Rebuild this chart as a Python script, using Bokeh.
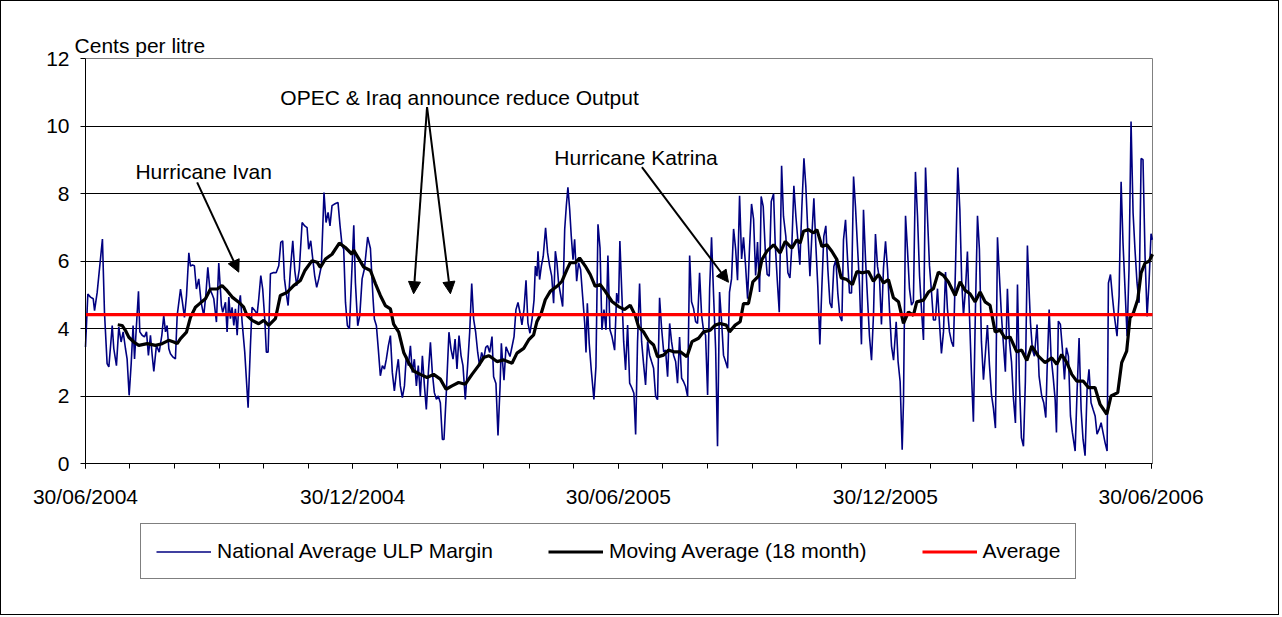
import calendar
from datetime import date
from bokeh.plotting import figure
from bokeh.models import (Range1d, FixedTicker, Legend, LegendItem, Label, Arrow,
                          NormalHead, Grid)
from bokeh.embed import file_html
from bokeh.resources import INLINE

# ---------------- data (days since 30/06/2004, cents per litre) ----------------
margin_days = [
    0, 1.6, 3.4, 5.3, 6.2, 8.0, 11.6, 13.0, 14.8, 16.0, 18.3, 19.4, 21.2, 22.8, 24.4, 25.8, 27.4, 28.5,
    29.9, 31.3, 32.6, 33.6, 34.9, 36.3, 37.2, 38.8, 40.4, 41.8, 43.1, 44.5, 45.7, 46.8, 48.6, 50.5, 52.3,
    53.6, 54.8, 55.9, 57.1, 58.2, 60.0, 61.6, 62.8, 65.1, 66.4, 67.8, 69.2, 70.8, 71.9, 73.3, 74.6, 76.0,
    77.6, 79.2, 81.0, 82.4, 83.8, 85.2, 86.7, 87.9, 89.7, 91.3,
    93.1, 94.0, 95.9, 97.0, 98.2, 99.3, 100.4, 101.6, 102.7, 103.9, 105.0, 106.1, 107.3, 109.1, 111.4,
    113.0, 114.1, 116.0, 117.6, 118.7, 120.1, 121.4, 122.8, 123.9, 125.1, 126.7, 129.0, 130.6, 132.4,
    133.8, 135.1, 136.3, 137.6, 138.8, 140.4, 142.0, 143.4, 144.7, 146.5, 148.4, 150.2, 151.8, 152.9,
    154.3, 155.7, 157.0, 158.4, 159.8, 161.6, 163.4, 164.8, 166.2, 167.5, 168.9, 170.3, 171.7, 173.0,
    174.4, 175.8, 176.9, 178.1, 179.4, 180.8,
    183.8, 184.9, 186.5, 187.9, 189.5, 191.1, 193.3, 195.2, 197.0, 197.9, 199.3, 200.6, 202.0, 203.4,
    204.8, 206.1, 207.5, 208.9, 210.2, 211.6, 213.0, 214.3, 215.7, 217.1, 218.5, 219.8, 221.2, 222.6,
    223.9, 225.3, 226.7, 228.0, 229.4, 230.8, 232.2, 233.5, 234.9, 236.3, 237.6, 239.0, 240.4, 241.7,
    243.1, 244.5, 245.6, 247.2, 249.0, 250.4, 251.8, 253.2, 254.5, 255.9, 257.3, 258.6, 260.2, 261.8,
    263.2, 264.6, 265.9, 267.3, 268.7, 270.0, 271.4, 272.8, 274.2, 275.5, 276.9,
    278.5, 279.6, 281.2, 282.6, 284.0, 284.9, 285.8, 286.7, 288.1, 289.4, 290.8, 292.2, 293.6, 294.9,
    296.3, 297.7, 299.0, 300.4, 301.8, 303.1, 304.5, 305.9, 307.3, 308.2, 309.3, 310.0, 311.1, 312.3,
    313.6, 315.2, 316.6, 318.0, 319.4, 320.7, 321.9, 323.0, 324.1, 325.5, 326.9, 328.3, 329.4, 330.5,
    331.7, 332.8, 334.0, 335.1, 336.5, 337.8, 339.2, 340.6, 342.0, 342.9, 343.8, 345.1, 346.5, 348.3,
    349.7, 351.1, 352.5, 353.8, 355.2, 356.6, 357.9, 359.3, 360.7, 362.5, 363.9, 365.2, 366.1,
    367.5, 368.7, 370.0, 371.4, 372.8, 374.4, 375.7, 376.9, 378.2, 379.6, 381.0, 382.4, 383.7, 385.1,
    386.5, 387.8, 389.2, 390.6, 391.9, 393.3, 394.7, 396.1, 397.4, 398.8, 400.2, 401.5, 402.9, 404.3,
    405.6, 407.0, 408.4, 409.7, 411.1, 412.5, 413.9, 415.2, 416.6, 418.0, 419.3, 420.7, 422.1, 423.4,
    424.8, 426.2, 427.6, 428.9, 430.3, 431.7, 433.0, 434.4, 435.8, 437.1, 438.5, 439.9, 441.2, 442.6,
    444.0, 445.4, 446.7, 448.1, 449.5, 450.8, 452.2, 453.6, 454.9, 456.3, 457.7, 459.1, 460.4, 461.8,
    462.9, 464.3, 465.7, 467.0, 468.4, 469.8, 471.4, 472.5, 473.9, 475.3, 476.9, 478.2, 479.8, 481.2,
    482.6, 483.9, 485.3, 486.7, 488.0, 489.4, 490.8, 492.2, 493.5, 494.9, 496.3, 497.6, 499.0, 500.4,
    501.7, 503.1, 504.5, 505.8, 507.2, 508.6, 510.0, 511.3, 512.7, 514.1, 515.4, 516.8, 518.2, 519.3,
    520.7, 522.1, 523.4, 524.8, 526.2, 527.5, 528.9, 530.3, 531.6, 533.0, 534.4, 535.8, 537.1, 538.5,
    539.9, 541.2, 542.6, 544.0, 545.3, 546.7, 548.1, 549.5, 550.8, 552.2, 553.6,
    555.4, 556.7, 558.1, 559.5, 560.4, 561.8, 563.1, 564.5, 565.9, 567.2, 568.6, 570.0, 571.4, 572.7,
    574.1, 575.5, 576.8, 578.2, 579.6, 580.9, 582.3, 583.7, 585.0, 586.4, 587.8, 589.2, 590.5, 591.9,
    593.3, 594.6, 596.0, 597.6, 599.0, 600.3, 601.5, 602.9, 604.2, 605.6, 607.0, 608.3, 609.7, 611.1,
    612.4, 613.8, 615.2, 616.6, 617.9, 619.3, 620.7, 622.0, 623.4, 624.8, 626.1, 627.5, 628.9, 630.2,
    631.6, 633.0, 634.4, 635.7, 637.1, 638.5, 639.8, 641.2, 642.6, 643.9, 645.3, 646.7,
    647.4, 648.7, 650.1, 651.9, 653.3, 655.1, 656.5, 657.9, 658.8, 660.2, 661.5, 662.9, 664.3, 665.2,
    666.5, 667.9, 669.3, 670.7, 672.0, 673.4, 674.8, 676.1, 678.0, 679.3, 680.7, 682.1, 683.4, 684.8,
    686.2, 687.5, 688.9, 690.3, 691.7, 693.0, 694.4, 695.8, 697.1, 698.5, 699.9, 700.8, 702.2, 703.5,
    704.9, 706.7, 708.1, 709.5, 710.8, 712.2, 713.6, 714.9, 716.3, 717.7, 719.0, 720.4, 721.8, 723.2,
    724.5, 725.9, 727.3, 728.6, 730.0, 730.9,
]
margin_values = [
    3.45, 5.02, 4.93, 4.88, 4.53, 5.07, 6.65, 4.48, 2.96, 2.86, 4.09, 3.40, 2.90, 4.04, 3.60, 3.90, 3.40, 3.10,
    2.02, 2.96, 4.09, 3.10, 4.09, 5.10, 3.90, 3.80, 3.75, 3.90, 3.20, 3.80, 3.20, 2.73, 3.50, 3.30, 3.80,
    4.38, 3.90, 4.09, 3.40, 3.25, 3.15, 3.10, 4.38, 5.17, 4.78, 4.33, 4.97, 6.24, 5.85, 5.88, 5.86, 5.17,
    5.47, 4.78, 4.38, 4.97, 5.81, 5.17, 5.02, 4.88, 4.19, 5.94,
    4.68, 4.48, 4.78, 3.90, 4.93, 4.29, 4.63, 4.09, 4.58, 3.80, 4.68, 4.98, 4.19, 3.30, 1.65,
    3.50, 4.63, 4.53, 4.43, 4.88, 5.57, 5.17, 4.29, 3.30, 3.30, 5.62, 5.66, 5.65, 5.86,
    6.55, 6.60, 5.47, 5.02, 4.68, 5.76, 6.60, 5.71, 5.27, 5.76, 7.14, 7.04, 6.99, 6.35,
    6.60, 6.06, 5.57, 5.22, 5.47, 5.86, 8.03, 7.14, 7.44, 7.04, 7.64, 7.68, 7.71, 7.73,
    7.04, 6.45, 6.35, 4.78, 4.09, 3.99,
    7.06, 5.37, 4.08, 4.38, 5.47, 5.77, 6.71, 6.37, 4.88, 4.28, 4.08, 3.39, 2.60, 2.90,
    2.80, 3.09, 3.49, 3.79, 2.70, 2.15, 2.70, 3.09, 2.30, 1.95, 2.30, 3.19, 2.90, 3.49,
    2.70, 3.09, 2.30, 2.90, 2.00, 3.19, 2.30, 1.60, 2.70, 3.59, 2.70, 2.10, 1.90, 2.00,
    1.80, 0.71, 0.71, 2.10, 3.89, 3.39, 3.09, 3.69, 2.80, 3.79, 3.19, 2.90, 1.90, 2.90,
    3.89, 5.33, 4.28, 3.89, 3.29, 2.90, 3.29, 3.09, 3.44, 3.49, 3.29,
    3.76, 2.57, 2.37, 0.83, 2.27, 3.56, 2.97, 2.47, 3.46, 3.32, 3.17, 3.46, 3.76, 4.56,
    4.77, 4.46, 4.11, 4.56, 5.43, 4.16, 3.86, 4.26, 4.85, 5.85, 5.55, 6.29, 5.45, 5.85,
    6.14, 6.98, 6.24, 5.85, 5.55, 4.75, 6.29, 5.95, 5.35, 5.00, 4.65, 6.94, 7.63, 8.18,
    7.53, 6.74, 6.04, 6.64, 5.40, 5.95, 5.75, 4.95, 4.16, 3.29, 4.75, 3.56, 2.77, 1.90,
    2.87, 7.09, 6.39, 3.96, 4.56, 3.96, 6.16, 3.96, 3.76, 3.36, 5.05, 4.75, 6.59,
    4.98, 3.61, 2.77, 4.10, 2.38, 2.23, 2.08, 0.86, 3.61, 5.33, 3.61, 2.92, 2.33, 3.61,
    3.21, 3.02, 2.82, 1.99, 1.89, 4.91, 4.00, 3.31, 3.36, 2.57, 4.15, 3.61, 3.21, 3.02,
    2.38, 3.75, 2.53, 2.43, 2.28, 1.99, 6.16, 4.79, 4.59, 4.20, 4.15, 5.65, 4.39, 3.95,
    3.80, 2.03, 5.18, 6.70, 4.98, 3.41, 0.51, 5.08, 4.20, 3.21, 3.02, 2.82, 5.08, 5.47,
    6.95, 6.36, 5.43, 7.93, 6.06, 6.70, 5.87, 4.88, 6.36, 7.69, 7.24, 5.57, 6.56, 5.08,
    7.91, 7.62, 6.33, 5.60, 5.55, 7.76, 7.99, 6.53, 5.45, 4.48, 8.82, 7.32, 6.73, 5.65,
    5.50, 6.43, 8.23, 7.32, 6.63, 5.89, 7.62, 9.04, 8.21, 6.83, 5.55, 6.73, 7.86, 6.43,
    5.25, 3.53, 5.25, 6.73, 7.04, 5.74, 4.76, 4.61, 5.84, 6.04, 5.05, 4.36, 4.22, 6.63,
    7.22, 6.04, 5.05, 5.05, 8.50, 7.62, 6.43, 5.25, 3.53, 7.52, 6.04, 4.86, 3.77, 3.06,
    4.46, 6.80, 5.84, 5.45, 4.12, 5.79, 6.58, 5.74, 4.56, 3.48, 3.06,
    4.20, 3.02, 2.43, 0.41, 1.84, 7.34, 6.36, 5.18, 4.69, 4.79, 8.64, 7.34, 5.57, 4.59,
    3.66, 8.77, 7.34, 5.87, 5.08, 4.25, 4.25, 5.18, 4.20, 3.26, 3.90, 5.67, 4.59, 3.90,
    3.61, 3.46, 5.77, 8.77, 7.54, 5.38, 4.39, 5.18, 6.28, 4.39, 2.62, 1.24, 4.59, 7.34,
    6.36, 3.61, 2.48, 3.31, 4.10, 2.92, 2.03, 1.64, 1.05, 6.70, 5.57, 4.39, 3.51, 2.72,
    5.18, 3.61, 3.02, 1.94, 1.20, 5.30, 2.43, 0.76, 0.51, 2.43, 6.46, 4.88,
    4.17, 3.38, 3.18, 4.12, 2.59, 2.00, 1.80, 1.36, 2.79, 4.56, 3.18, 2.59, 1.90, 0.92,
    4.22, 4.12, 3.38, 2.49, 3.43, 3.18, 1.41, 0.92, 0.37, 2.10, 3.72, 1.60, 0.72, 0.23,
    2.20, 2.79, 1.80, 1.60, 1.41, 0.87, 1.01, 1.21, 0.92, 0.62, 0.37, 5.35, 5.60, 4.96,
    4.36, 3.77, 4.96, 8.35, 6.53, 5.15, 3.77, 5.74, 10.13, 7.42, 6.34, 5.35, 4.76, 9.04,
    9.00, 6.14, 4.36, 5.35, 6.81, 6.63,
]

ma_days = [
    22.1, 25.1, 27.4, 29.7, 33.1, 36.5, 42.3, 47.9, 52.5, 57.0, 60.5, 62.8, 65.1, 69.2, 71.9, 75.3, 78.8,
    82.2, 85.6, 90.2, 93.6, 97.0, 100.5, 105.0, 108.4, 110.7, 114.2, 118.7, 122.1, 125.5, 130.1, 133.5,
    138.1, 142.6, 147.2, 150.2, 155.2, 158.7, 160.9, 164.4, 168.9, 173.9, 178.0, 182.6, 183.7, 187.2,
    190.6, 195.2, 198.6, 202.0, 205.4, 208.9, 211.1, 214.6, 218.0, 221.4, 224.8, 229.4, 234.0, 238.5,
    243.1, 247.0, 251.1, 255.6, 260.2, 264.8, 269.3, 272.8, 276.2, 277.3, 281.9, 286.5, 292.2, 295.6,
    300.2, 303.6, 307.0, 309.3, 312.3, 315.0, 318.4, 323.0, 326.4, 329.9, 332.1, 335.6, 338.5, 342.4,
    345.8, 349.2, 352.7, 356.1, 360.7, 365.2, 369.3, 373.2, 376.6, 378.9, 382.3, 385.7, 389.2, 391.9,
    396.0, 399.4, 402.9, 407.5, 412.0, 415.5, 420.0, 423.4, 428.0, 431.4, 434.8, 439.0, 441.2, 445.1,
    448.5, 450.8, 454.2, 457.2, 461.1, 463.4, 466.8, 471.4, 475.9, 479.4, 483.9, 487.4, 489.6, 491.9,
    495.3, 498.8, 501.1, 504.5, 507.9, 511.3, 514.8, 517.7, 521.6, 525.4, 528.5, 531.9, 536.4, 539.8,
    543.3, 546.7, 550.1, 553.5, 557.0, 560.4, 563.8, 567.2, 569.5, 574.1, 577.5, 580.9, 584.3, 587.8,
    591.2, 595.8, 599.2, 602.6, 606.0, 609.5, 612.9, 616.3, 619.7, 623.2, 626.6, 630.0, 633.4, 638.0,
    641.4, 644.9, 648.3, 652.8, 657.4, 662.0, 665.4, 668.8, 672.3, 675.7, 679.1, 683.6, 687.1, 691.6,
    695.1, 699.7, 702.6, 707.2, 709.9, 713.3, 715.6, 717.9, 720.9, 723.2, 725.9, 728.7, 731.0,
]
ma_values = [
    4.11, 4.09, 3.94, 3.74, 3.60, 3.50, 3.55, 3.50, 3.55, 3.65, 3.60, 3.55, 3.70, 3.89, 4.33, 4.63, 4.76,
    4.88, 5.17, 5.17, 5.27, 5.12, 4.93, 4.78, 4.63, 4.38, 4.24, 4.14, 4.24, 4.09, 4.29, 4.98,
    5.07, 5.27, 5.42, 5.71, 6.01, 5.96, 5.81, 6.06, 6.20, 6.53, 6.40, 6.20, 6.32, 6.07,
    5.82, 5.72, 5.33, 4.98, 4.68, 4.58, 4.13, 3.89, 3.29, 2.99, 2.74, 2.64, 2.55, 2.64,
    2.50, 2.20, 2.30, 2.40, 2.35, 2.64, 2.90, 3.14, 3.19, 3.17, 3.02, 3.07, 2.97, 3.27,
    3.41, 3.66, 3.81, 4.21, 4.46, 4.85, 5.10, 5.25, 5.40, 5.75, 5.95, 5.95, 6.09, 5.85,
    5.60, 5.25, 5.30, 5.10, 4.80, 4.65, 4.56, 4.69, 4.39, 4.05, 3.90, 3.65, 3.51, 3.16,
    3.21, 3.36, 3.31, 3.31, 3.16, 3.61, 3.71, 3.90, 3.95, 4.10, 4.15, 4.10, 3.90, 4.10,
    4.20, 4.74, 4.74, 5.38, 5.55, 6.04, 6.29, 6.48, 6.24, 6.58, 6.38, 6.63, 6.53, 6.88,
    6.93, 6.83, 6.93, 6.43, 6.48, 6.29, 6.04, 5.50, 5.45, 5.30, 5.69, 5.65, 5.69, 5.40,
    5.60, 5.35, 5.45, 4.91, 4.79, 4.15, 4.49, 4.39, 4.79, 4.84, 5.08, 5.18, 5.67, 5.57,
    5.38, 4.98, 5.38, 5.13, 5.03, 4.79, 5.08, 4.79, 4.69, 3.90, 3.95, 3.71, 3.75, 3.31,
    3.36, 3.05, 3.48, 3.18, 2.99, 3.13, 2.94, 3.23, 2.99, 2.64, 2.44, 2.44, 2.25, 2.25,
    1.75, 1.46, 2.00, 2.10, 2.99, 3.33, 4.32, 4.46, 4.86, 5.65, 5.94, 5.99, 6.20,
]

average_value = 4.41
period_days = [0, 731]

major_tick_labels = ["30/06/2004", "30/12/2004", "30/06/2005", "30/12/2005", "30/06/2006"]
y_ticks = [0, 2, 4, 6, 8, 10, 12]

series_names = ["National Average ULP Margin", "Moving Average (18 month)", "Average"]
y_axis_title = "Cents per litre"

# ---------------- tick positions (days since start) ----------------
start = date(2004, 6, 30)


def day_of(d):
    return (d - start).days


major_ticks = [day_of(date(int(s[6:]), int(s[3:5]), int(s[:2]))) for s in major_tick_labels]
minor_ticks = []
y, m = 2004, 6
for _ in range(25):
    dd = min(30, calendar.monthrange(y, m)[1])
    minor_ticks.append(day_of(date(y, m, dd)))
    m += 1
    if m > 12:
        m = 1
        y += 1

FONT = "Liberation Sans"
FS = "21px"

# geometry: the frame covers the whole canvas so that the axes (drawn at fixed
# locations), the axis title and the legend sit inside it without being clipped
DATA_W = 1067                      # px for the 731-day period
DAY_PX = DATA_W / period_days[1]
PAD_L, PAD_R = 65, 78              # px of frame outside the period
VAL_PX = 33.75                     # px per cent
PAD_T = 57                         # px of frame above the 12 line
FRAME_H = 613
x_lo = period_days[0] - PAD_L / DAY_PX
x_hi = period_days[1] + PAD_R / DAY_PX
y_hi = y_ticks[-1] + PAD_T / VAL_PX
y_lo = y_hi - FRAME_H / VAL_PX

p = figure(frame_width=DATA_W + PAD_L + PAD_R, frame_height=FRAME_H,
           min_border_left=19, min_border_right=48, min_border_top=0, min_border_bottom=0,
           x_range=Range1d(x_lo, x_hi), y_range=Range1d(y_lo, y_hi),
           output_backend="svg", toolbar_location=None, tools="",
           background_fill_color="white", border_fill_color="white")
p.styles = {"border": "1px solid black"}
p.outline_line_color = None

# axes
p.xaxis.ticker = FixedTicker(ticks=major_ticks, minor_ticks=minor_ticks)
p.xaxis.major_label_overrides = {t: lab for t, lab in zip(major_ticks, major_tick_labels)}
p.xaxis.fixed_location = y_ticks[0]
p.xaxis.bounds = (period_days[0], period_days[1])
p.yaxis.ticker = FixedTicker(ticks=y_ticks)
p.yaxis.fixed_location = period_days[0]
p.yaxis.bounds = (y_ticks[0], y_ticks[-1])
for ax in (p.xaxis[0], p.yaxis[0]):
    ax.axis_line_color = "black"
    ax.axis_line_width = 1
    ax.major_tick_line_color = "black"
    ax.minor_tick_line_color = "black"
    ax.major_label_text_font = FONT
    ax.major_label_text_font_size = FS
    ax.major_label_text_color = "black"
    ax.major_tick_in = 0
    ax.minor_tick_in = 0
p.xaxis.major_tick_out = 5
p.xaxis.minor_tick_out = 5
p.xaxis.major_label_standoff = 16
p.yaxis.major_tick_out = 5
p.yaxis.minor_tick_out = 0
p.yaxis.major_label_standoff = 11

p.xgrid.grid_line_color = None
p.ygrid.ticker = FixedTicker(ticks=y_ticks[1:-1])
p.ygrid.cross_bounds = (period_days[0], period_days[1])
p.ygrid.grid_line_color = "black"
p.ygrid.grid_line_width = 1
# plot-area border (grey) on top and right
p.add_layout(Grid(dimension=1, ticker=FixedTicker(ticks=[y_ticks[-1]]),
                  bounds=(y_ticks[0], y_ticks[-1] + 1), cross_bounds=(period_days[0], period_days[1]),
                  grid_line_color="#808080", grid_line_width=1))
p.add_layout(Grid(dimension=0, ticker=FixedTicker(ticks=[period_days[1] - 0.3]),
                  cross_bounds=(y_ticks[0], y_ticks[-1]),
                  grid_line_color="#808080", grid_line_width=1))

# series
r_margin = p.line(margin_days, margin_values, line_color="#000080", line_width=1.6)
r_ma = p.line(ma_days, ma_values, line_color="black", line_width=3.2)
r_avg = p.line(period_days, [average_value, average_value], line_color="#FF0000", line_width=3.2)

legend = Legend(items=[LegendItem(label=series_names[0], renderers=[r_margin]),
                       LegendItem(label=series_names[1], renderers=[r_ma]),
                       LegendItem(label=series_names[2], renderers=[r_avg])],
                orientation="horizontal", location=(PAD_L + 55, 35),
                label_text_font=FONT, label_text_font_size=FS, label_text_color="black",
                glyph_width=55, glyph_height=21, label_height=21, label_standoff=6,
                spacing=55, padding=15, margin=0,
                border_line_color="black", border_line_width=1,
                background_fill_color="white", background_fill_alpha=1.0)
p.add_layout(legend)

# text annotations
def add_text(x, yv, txt):
    p.add_layout(Label(x=x, y=yv, text=txt, text_font=FONT, text_font_size=FS,
                       text_color="black", text_baseline="alphabetic", text_align="left"))


add_text(-7.5, 12.38, y_axis_title)
add_text(34.2, 8.65, "Hurricane Ivan")
add_text(133.5, 10.84, "OPEC & Iraq announce reduce Output")
add_text(321.2, 9.07, "Hurricane Katrina")

def add_arrow(x0, y0, x1, y1):
    p.add_layout(Arrow(end=NormalHead(size=12, fill_color="black", line_color="black", line_width=1),
                       x_start=x0, y_start=y0, x_end=x1, y_end=y1,
                       line_color="black", line_width=2))


add_arrow(76.5, 8.33, 105.0, 5.67)
add_arrow(234.0, 10.56, 224.8, 5.03)
add_arrow(234.0, 10.56, 250.0, 5.03)
add_arrow(381.2, 8.78, 440.5, 5.37)

open("out.html", "w").write(file_html(p, INLINE))
